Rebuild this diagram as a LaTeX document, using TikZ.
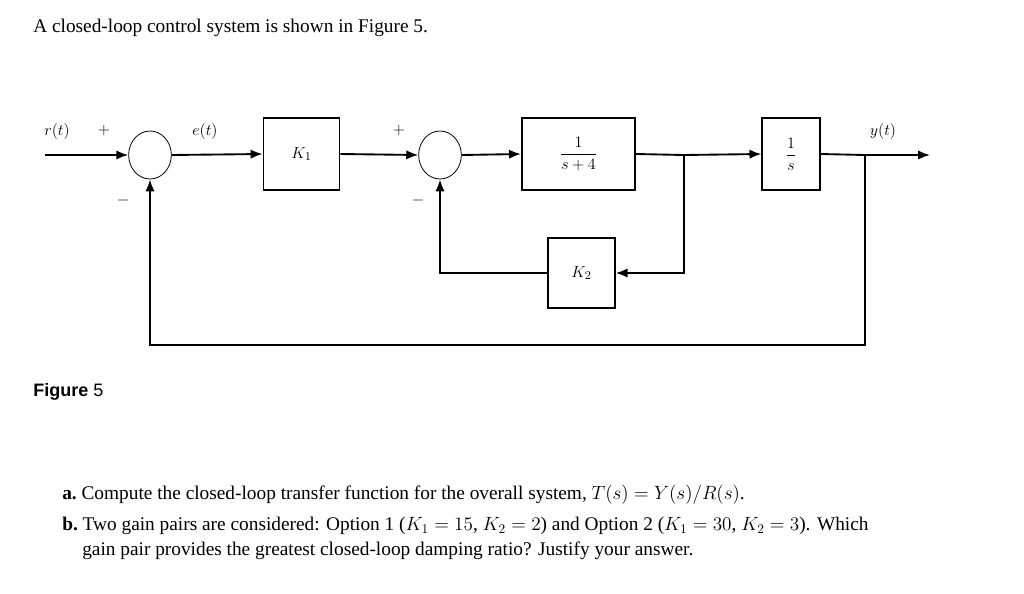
\documentclass[tikz,border=0pt]{standalone}
\usepackage{amsmath}
\usepackage{fontspec}
\setmainfont{Liberation Serif}
\newfontfamily\sansf{Liberation Sans}
\usetikzlibrary{arrows.meta,shapes.geometric}
\begin{document}
\begin{tikzpicture}[x=0.75pt,y=-0.75pt,
  blk/.style={draw,line width=1.3pt,inner sep=0pt},
  sum/.style={draw,ellipse,minimum width=32pt,minimum height=36pt,inner sep=0pt,line width=0.6pt},
  sig/.style={line width=1.4pt,-{Latex[length=9pt,width=7pt]}},
  ln/.style={line width=1.4pt},
  lab/.style={font=\fontsize{12}{14}\selectfont},
  txt/.style={font=\fontsize{14.5}{17}\selectfont,anchor=west,inner sep=0pt}]
\useasboundingbox (0,0) rectangle (1024,593);
\node[txt] (title) at (33,28) {A closed-loop control system is shown in Figure 5.};
% diagram
\coordinate (in) at (45,155);
\node[sum] (s1) at (150,155) {};
\node[blk,minimum width=57pt,minimum height=54pt] (k1) at (301.5,154) {\fontsize{13}{15}\selectfont$K_1$};
\node[sum] (s2) at (440,155) {};
\node[blk,minimum width=85pt,minimum height=54pt] (g1) at (578.5,154) {\fontsize{13}{15}\selectfont$\dfrac{1}{s+4}$};
\node[blk,minimum width=43pt,minimum height=54pt] (g2) at (791,154) {\fontsize{13}{15}\selectfont$\dfrac{1}{s}$};
\node[blk,minimum width=50pt,minimum height=52pt] (k2) at (581.5,273) {\fontsize{13}{15}\selectfont$K_2$};
\coordinate (b1) at (684,155);
\coordinate (b2) at (865,155);
\coordinate (out) at (930,155);
\coordinate (b1d) at (684,273);
\coordinate (b2d) at (865,345);
\coordinate (s1d) at (150,345);
\coordinate (s2d) at (440,273);
\draw[sig] (in) -- (s1.west);
\draw[sig] (s1.east) -- (k1.west);
\draw[sig] (k1.east) -- (s2.west);
\draw[sig] (s2.east) -- (g1.west);
\draw[ln] (g1.east) -- (b1);
\draw[sig] (b1) -- (g2.west);
\draw[ln] (g2.east) -- (b2);
\draw[sig] (b2) -- (out);
\draw[sig] (b1) -- (b1d) -- (k2.east);
\draw[sig] (k2.west) -- (s2d) -- (s2.south);
\draw[sig] (b2) -- (b2d) -- (s1d) -- (s1.south);
\node[lab] (lr) at (57,131) {$r(t)$};
\node[lab] (p1) at (104,130) {$+$};
\node[lab] (m1) at (123,200) {$-$};
\node[lab] (le) at (205,131) {$e(t)$};
\node[lab] (p2) at (399,130) {$+$};
\node[lab] (m2) at (418,200) {$-$};
\node[lab] (ly) at (883,131) {$y(t)$};
\node[txt,font=\sansf\bfseries\fontsize{13.5}{16}\selectfont] (fig) at (33,392) {Figure \textmd{5}};
\node[txt] (qa) at (62,495) {\textbf{a.}\ Compute the closed-loop transfer function for the overall system, $T(s)=Y(s)/R(s)$.};
\node[txt] (qb) at (62,526) {\textbf{b.}\ Two gain pairs are considered: Option 1 ($K_1=15$, $K_2=2$) and Option 2 ($K_1=30$, $K_2=3$). Which};
\node[txt] (qc) at (82,551) {gain pair provides the greatest closed-loop damping ratio? Justify your answer.};
\end{tikzpicture}
\end{document}
